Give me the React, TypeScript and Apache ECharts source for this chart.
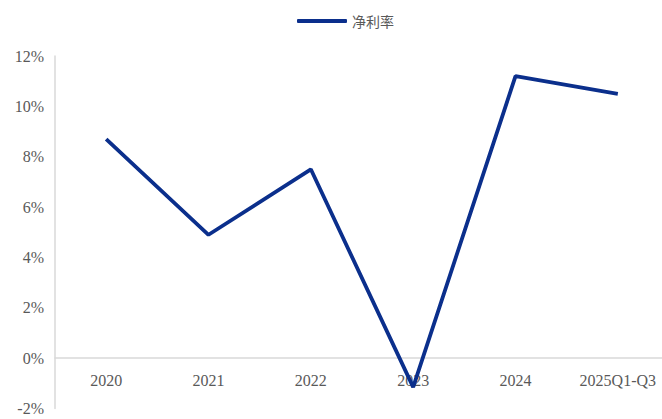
import React, { useEffect, useRef } from "react";
import * as echarts from "echarts";

const categories = ["2020", "2021", "2022", "2023", "2024", "2025Q1-Q3"];
const netMargin = [8.7, 4.9, 7.5, -1.15, 11.2, 10.5];
const seriesName = "净利率";

const gridHeight = 352.5;
const yMin = -2;
const yMax = 12;

export default function App() {
  const ref = useRef<HTMLDivElement>(null);
  useEffect(() => {
    if (!ref.current) return;
    const chart = echarts.init(ref.current, null, { renderer: "svg" });
    const zeroOffset = (-yMin / (yMax - yMin)) * gridHeight;
    chart.setOption({
      animation: false,
      legend: {
        top: 9,
        left: 292,
        itemWidth: 50,
        itemHeight: 4,
        itemGap: 6,
        textStyle: { color: "#595959", fontSize: 14, fontFamily: "Noto Sans CJK SC" },
        data: [{ name: seriesName, icon: "roundRect", itemStyle: { color: "#0B2F8C" } }],
      },
      grid: { left: 55, top: 56, width: 614, height: gridHeight, outerBoundsMode: "none", containLabel: false },
      xAxis: {
        type: "category",
        data: categories,
        boundaryGap: true,
        offset: -zeroOffset,
        axisLine: { show: true, onZero: false, lineStyle: { color: "#d9d9d9", width: 1.5 } },
        axisTick: { show: false },
        axisLabel: {
          color: "#595959",
          fontSize: 16,
          fontFamily: "Liberation Serif",
          margin: 14,
          interval: 0,
        },
      },
      yAxis: {
        type: "value",
        min: yMin,
        max: yMax,
        interval: 2,
        axisLine: { show: true, lineStyle: { color: "#d9d9d9", width: 1.5 } },
        axisTick: { show: false },
        splitLine: { show: false },
        axisLabel: {
          color: "#595959",
          fontSize: 16,
          fontFamily: "Liberation Serif",
          margin: 11,
          formatter: (v: number) => `${v}%`,
        },
      },
      series: [
        {
          name: seriesName,
          type: "line",
          data: netMargin,
          symbol: "none",
          lineStyle: { color: "#0B2F8C", width: 3.8 },
          itemStyle: { color: "#0B2F8C" },
          z: 3,
        },
      ],
    });
    return () => chart.dispose();
  }, []);
  return <div ref={ref} style={{ width: 662, height: 419, position: "absolute", left: 0, top: 0 }} />;
}
